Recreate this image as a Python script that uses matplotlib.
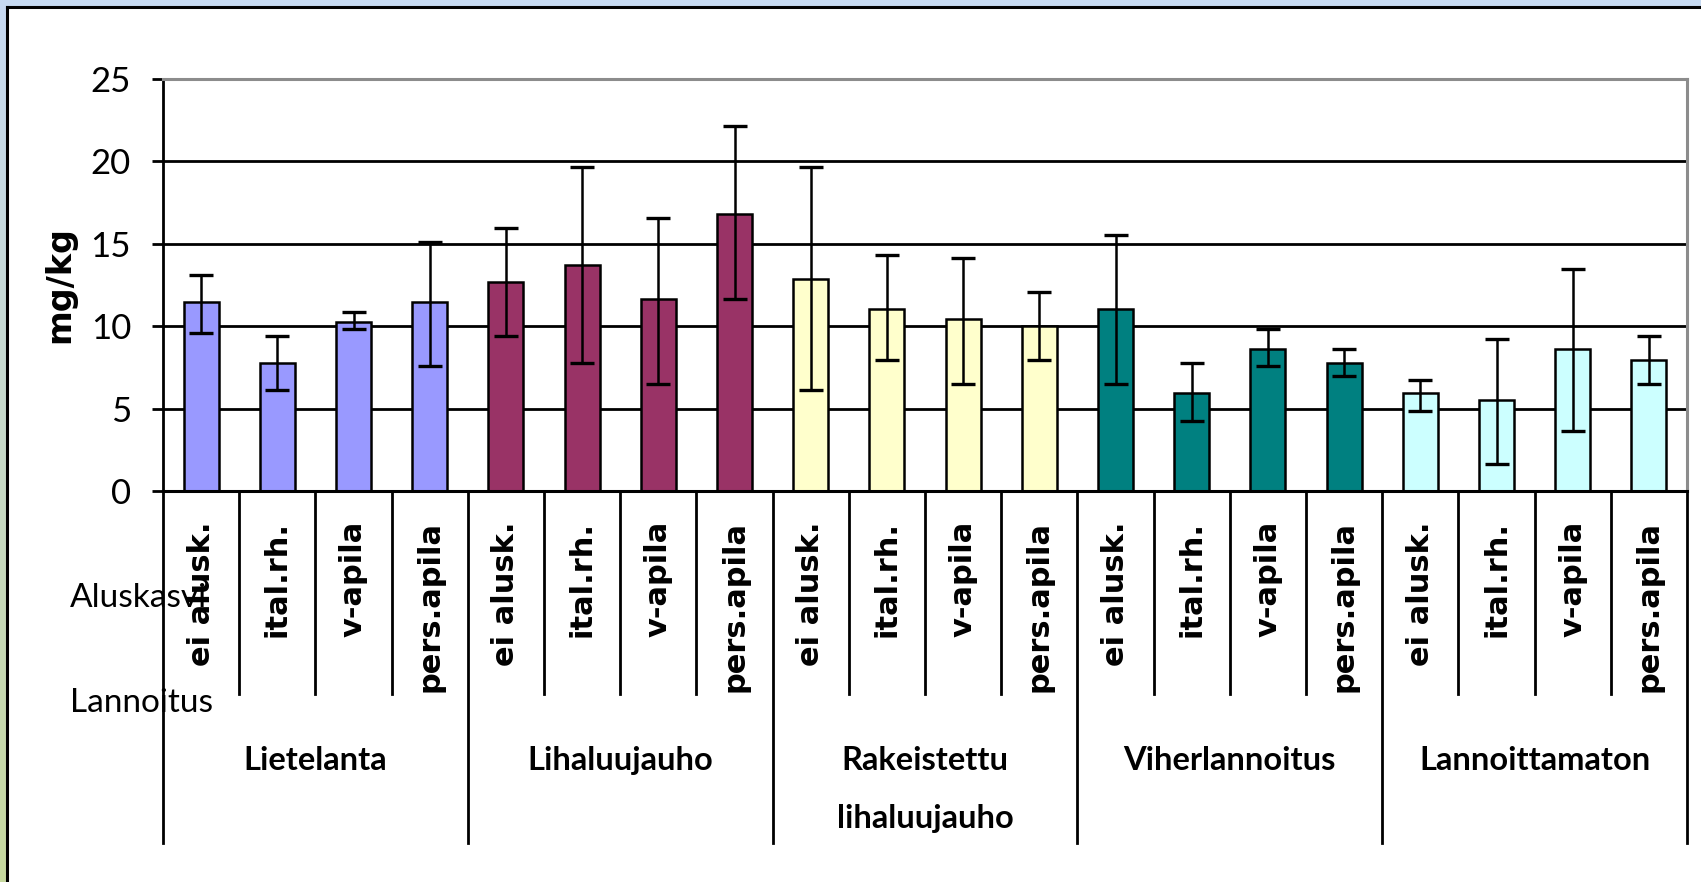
import matplotlib
matplotlib.use('Agg')
import matplotlib.pyplot as plt
import numpy as np
from matplotlib.transforms import blended_transform_factory
from matplotlib.patches import Rectangle
from matplotlib.lines import Line2D

# ---- data ----
groups = ['Lietelanta', 'Lihaluujauho', 'Rakeistettu\nlihaluujauho', 'Viherlannoitus', 'Lannoittamaton']
crops = ['ei alusk.', 'ital.rh.', 'v-apila', 'pers.apila']
group_colors = ['#9999FF', '#993366', '#FFFFCC', '#008080', '#CCFFFF']
values = [11.45, 7.76, 10.23, 11.45,
          12.7, 13.72, 11.65, 16.8,
          12.88, 11.04, 10.43, 10.03,
          11.04, 5.94, 8.59, 7.76,
          5.94, 5.51, 8.59, 7.96]
err_high = [13.09, 9.4, 10.84, 15.13,
            15.94, 19.65, 16.57, 22.12,
            19.65, 14.32, 14.12, 12.07,
            15.56, 7.76, 9.83, 8.59,
            6.73, 9.2, 13.49, 9.4]
err_low = [9.6, 6.12, 9.83, 7.56,
           9.4, 7.76, 6.52, 11.65,
           6.12, 7.96, 6.52, 7.96,
           6.52, 4.27, 7.56, 6.95,
           4.88, 1.62, 3.67, 6.52]
yticks = [0, 5, 10, 15, 20, 25]
ylabel = 'mg/kg'
row_labels = ['Aluskasvi', 'Lannoitus']

W, H = 1701, 882
fig = plt.figure(figsize=(W / 100, H / 100), dpi=100)
fig.patch.set_facecolor('white')

# decorative frame (top light-blue band, left gradient band, black border)
band = fig.add_axes([0, 0, 6 / W, 1])
grad = np.linspace(0, 1, 256).reshape(-1, 1)
top_c = np.array([0.78, 0.85, 0.95])
bot_c = np.array([0.78, 0.85, 0.62])
img = top_c[None, None, :] * (1 - grad[:, :, None]) + bot_c[None, None, :] * grad[:, :, None]
band.imshow(img, aspect='auto', extent=[0, 1, 0, 1])
band.axis('off')
fig.patches.append(Rectangle((0, 1 - 6 / H), 1, 6 / H, transform=fig.transFigure,
                             facecolor='#C6D9F1', edgecolor='none', zorder=0))
fig.lines.append(Line2D([7 / W, 7 / W], [0, 1 - 7 / H], transform=fig.transFigure,
                        color='black', lw=2.2))
fig.lines.append(Line2D([7 / W, 1], [1 - 7 / H, 1 - 7 / H], transform=fig.transFigure,
                        color='black', lw=2.2))

left, right, top, zero = 163, 1687, 79, 491
ax = fig.add_axes([left / W, 1 - zero / H, (right - left) / W, (zero - top) / H])

n = len(values)
x = np.arange(n)
colors = [group_colors[i // len(crops)] for i in range(n)]
vals = np.array(values)
yerr = [vals - np.array(err_low), np.array(err_high) - vals]

for g in yticks[1:-1]:
    ax.axhline(g, color='black', lw=2.0, zorder=1)

ax.bar(x, vals, width=0.46, color=colors, edgecolor='black', linewidth=1.8, zorder=3)
ax.errorbar(x, vals, yerr=yerr, fmt='none', ecolor='black', elinewidth=1.8,
            capsize=8.5, capthick=2.4, zorder=4)

ax.set_xlim(-0.5, n - 0.5)
ax.set_ylim(0, 25)
ax.set_yticks(yticks)
ax.set_yticklabels([str(t) for t in yticks], fontsize=25, family='Lato')
ax.tick_params(axis='y', direction='out', length=8, width=2.0, pad=15, colors='black')
ax.set_xticks([])

for s in ['top', 'right']:
    ax.spines[s].set_color('#8C8C8C')
    ax.spines[s].set_linewidth(2.2)
ax.spines['left'].set_color('black')
ax.spines['left'].set_linewidth(2.0)
ax.spines['bottom'].set_color('black')
ax.spines['bottom'].set_linewidth(2.2)
ax.spines['bottom'].set_zorder(5)

ax.set_ylabel(ylabel, fontsize=24, fontweight='bold', family='DejaVu Sans')
ax.yaxis.set_label_coords(-0.057, 0.5)

trans = blended_transform_factory(ax.transData, ax.transAxes)
def frac(py):
    return (zero - py) / (zero - top)

inner_bot = frac(694)
outer_bot = frac(843)
for i in range(n + 1):
    yb = outer_bot if i % len(crops) == 0 else inner_bot
    ax.add_line(Line2D([i - 0.5, i - 0.5], [0, yb], transform=trans, color='black',
                       lw=2.0, clip_on=False))

for i in range(n):
    ax.text(x[i], frac(521), crops[i % len(crops)], transform=trans, rotation=90,
            ha='center', va='top', fontsize=22, fontweight='bold', family='DejaVu Sans')

for gi, g in enumerate(groups):
    cx = gi * len(crops) + (len(crops) - 1) / 2
    ax.text(cx, frac(746), g, transform=trans, ha='center', va='top', fontsize=23.5,
            fontweight='bold', family='Lato', linespacing=2.2, multialignment='center')

fig.text(70 / W, 1 - 607 / H, row_labels[0], fontsize=24, family='Lato', ha='left',
         va='baseline', zorder=0)
fig.text(70 / W, 1 - 712 / H, row_labels[1], fontsize=24, family='Lato', ha='left',
         va='baseline', zorder=0)

fig.savefig('out.png', dpi=100, facecolor=fig.get_facecolor())
